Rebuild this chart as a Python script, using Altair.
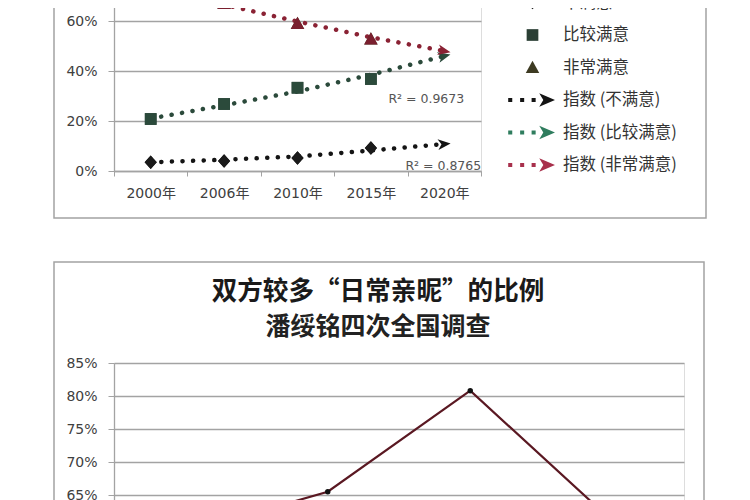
import math
import altair as alt
import pandas as pd

# ---------------- data (top chart) ----------------
years = ["2000年", "2006年", "2010年", "2015年", "2020年"]
obs_years = ["2000年", "2006年", "2010年", "2015年"]
series = ["不满意", "比较满意", "非常满意"]
trend_series = ["指数 (不满意)", "指数 (比较满意)", "指数 (非常满意)"]

unsatisfied = [0.035, 0.040, 0.052, 0.092]
fairly_satisfied = [0.208, 0.268, 0.333, 0.368]
very_satisfied = [0.74, 0.67, 0.59, 0.528]

trend_unsatisfied = [0.035, 0.045, 0.058, 0.082, 0.108]
trend_fairly = [0.21, 0.263, 0.318, 0.385, 0.46]
trend_very = [0.745, 0.665, 0.598, 0.535, 0.48]

r2_text = ["R² = 0.8765", "R² = 0.9673", "R² = 0.9895"]
r2_at = [0.022, 0.288, 0.668]

# ---------------- data (bottom chart) ----------------
surveys = ["2000年", "2006年", "2010年", "2015年"]
intimacy = [0.593, 0.655, 0.808, 0.61]

# ---------------- styles ----------------
all_series = series + trend_series
legend_colors = ["#1a1a1a", "#2b3f35", "#3d3a22", "#141414", "#2f7d5e", "#a8304c"]
point_colors = ["#1a1a1a", "#2b4a3b", "#7a1f2e", "#141414", "#2b4a3b", "#7a1f2e"]
trend_colors = ["#1a1a1a", "#2b4a3b", "#7a1f2e", "#141414", "#2b4a3b", "#8a2234"]
dots = "M-1.08,-0.09h0.18v0.18h-0.18Z M-0.55,-0.09h0.18v0.18h-0.18Z M-0.04,-0.09h0.18v0.18h-0.18Z "
arrow = "M0.3,-0.3L1,0L0.3,0.3L0.48,0Z"
shapes = [
    "M0,-0.3L0.27,0L0,0.3L-0.27,0Z",
    "M-0.26,-0.26H0.26V0.26H-0.26Z",
    "M0,-0.3L0.3,0.24L-0.3,0.24Z",
    dots + arrow,
    dots + arrow,
    dots + arrow,
]
NUM = "'DejaVu Sans', 'Noto Sans CJK SC'"
CJK = "'Noto Sans CJK SC'"
FRAME = "#a3a3a3"
GRID = "#a3a3a3"
LABEL = "#404040"

TOP_W, TOP_H = 367, 200
BOT_W, BOT_H = 570, 165

pts = pd.DataFrame({
    "year": obs_years * 3,
    "series": [s for s in series for _ in obs_years],
    "value": unsatisfied + fairly_satisfied + very_satisfied,
})
trend = pd.DataFrame({
    "year": years * 3,
    "series": [s for s in trend_series for _ in years],
    "value": trend_unsatisfied + trend_fairly + trend_very,
})
# arrow heads at the end of each trend line, rotated along the last segment
step = TOP_W / len(years)
heads = []
for name, vals in zip(trend_series, [trend_unsatisfied, trend_fairly, trend_very]):
    dy = (vals[-1] - vals[-2]) * TOP_H / 0.8
    heads.append({"year": years[-1], "series": name, "value": vals[-1],
                  "ang": -math.degrees(math.atan2(dy, step))})
heads = pd.DataFrame(heads)
r2 = pd.DataFrame({"year": years[-1], "txt": r2_text, "value": r2_at})

x_top = alt.X("year:N", sort=years,
              scale=alt.Scale(type="band", domain=years, paddingInner=0, paddingOuter=0),
              axis=alt.Axis(title=None, tickBand="extent", grid=False, labelFont=NUM,
                            labelFontSize=14, labelColor=LABEL, labelPadding=10,
                            tickSize=5, tickColor=FRAME, domainColor=FRAME, domainWidth=1.3,
                            labelAngle=0))
y_top = alt.Y("value:Q", scale=alt.Scale(domain=[0, 0.8]),
              axis=alt.Axis(title=None, values=[0, 0.2, 0.4, 0.6, 0.8], format=".0%",
                            grid=True, gridColor=GRID, gridWidth=1.3, tickSize=6,
                            tickColor=FRAME, domainColor=FRAME, domainWidth=1.3,
                            labelFont=NUM, labelFontSize=14, labelColor=LABEL,
                            labelPadding=11))

legend = alt.Legend(orient="none", legendX=396, legendY=9, title=None, padding=0,
                    symbolSize=2025, labelFont=CJK, labelFontSize=16.5, labelColor="#333333",
                    labelOffset=8, rowPadding=1.5, symbolStrokeWidth=0)

frame_top = alt.Chart(pd.DataFrame({"f": [0]})).mark_rect(
    fill=None, stroke=FRAME, strokeWidth=1.5).encode(
    x=alt.value(-60), x2=alt.value(592), y=alt.value(-10), y2=alt.value(247))

trend_lines = alt.Chart(trend).mark_line(
    strokeDash=[0.1, 10.5], strokeCap="round", strokeWidth=4.5).encode(
    x=x_top, y=y_top, detail="series:N",
    color=alt.Color("series:N", scale=alt.Scale(domain=all_series, range=trend_colors),
                    legend=None))

arrow_heads = alt.Chart(heads).mark_point(
    shape="M-1,-0.85L1,0L-1,0.85L-0.45,0Z", size=160, filled=True, opacity=1).encode(
    x=x_top, y=y_top,
    angle=alt.Angle("ang:Q", scale=None),
    color=alt.Color("series:N", scale=alt.Scale(domain=all_series, range=trend_colors),
                    legend=None))

points = alt.Chart(pts).mark_point(size=2025, filled=True, opacity=1).encode(
    x=x_top, y=y_top,
    color=alt.Color("series:N", scale=alt.Scale(domain=all_series, range=legend_colors),
                    legend=legend),
    shape=alt.Shape("series:N", scale=alt.Scale(domain=all_series, range=shapes),
                    legend=legend))

points_on_chart = alt.Chart(pts).mark_point(size=2025, filled=True, opacity=1).encode(
    x=x_top, y=y_top,
    color=alt.Color("series:N", scale=alt.Scale(domain=all_series, range=point_colors),
                    legend=None),
    shape=alt.Shape("series:N", scale=alt.Scale(domain=all_series, range=shapes),
                    legend=None))

r2_low = alt.Chart(r2).transform_filter(alt.datum.value < 0.1).mark_text(
    font=NUM, fontSize=12.5, color="#555555", dx=-1, baseline="middle").encode(
    x=x_top, y=y_top, text="txt:N")
r2_high = alt.Chart(r2).transform_filter(alt.datum.value >= 0.1).mark_text(
    font=NUM, fontSize=12.5, color="#555555", dx=-18, baseline="middle").encode(
    x=x_top, y=y_top, text="txt:N")

top = alt.layer(frame_top, trend_lines, arrow_heads, points, points_on_chart,
                r2_low, r2_high).resolve_scale(color="independent", shape="independent").properties(
    width=TOP_W, height=TOP_H)

# ---------------- bottom chart ----------------
bot = pd.DataFrame({"year": surveys, "value": intimacy})
x_bot = alt.X("year:N", sort=surveys,
              scale=alt.Scale(type="band", domain=surveys, paddingInner=0, paddingOuter=0),
              axis=alt.Axis(title=None, tickBand="extent", grid=False, labelFont=NUM,
                            labelFontSize=14, labelColor=LABEL, tickColor=FRAME,
                            domainColor=FRAME, labelAngle=0))
y_bot = alt.Y("value:Q", scale=alt.Scale(domain=[0.6, 0.85]),
              axis=alt.Axis(title=None, values=[0.6, 0.65, 0.7, 0.75, 0.8, 0.85], format=".0%",
                            grid=True, gridColor=GRID, gridWidth=1.3, tickSize=6,
                            tickColor=FRAME, domainColor=FRAME, domainWidth=1.3,
                            labelFont=NUM, labelFontSize=14, labelColor=LABEL,
                            labelPadding=11))

frame_bot = alt.Chart(pd.DataFrame({"f": [0]})).mark_rect(
    fill=None, stroke=FRAME, strokeWidth=1.5).encode(
    x=alt.value(-60), x2=alt.value(590), y=alt.value(-101), y2=alt.value(230))
bot_line = alt.Chart(bot).mark_line(color="#5a1822", strokeWidth=2.2).encode(x=x_bot, y=y_bot)
bot_pts = alt.Chart(bot).mark_point(filled=True, color="#111111", size=30, opacity=1).encode(
    x=x_bot, y=y_bot)

bottom = alt.layer(frame_bot, bot_line, bot_pts).properties(
    width=BOT_W, height=BOT_H,
    title=alt.TitleParams(text="双方较多“日常亲昵”的比例", subtitle="潘绥铭四次全国调查",
                          font=CJK, fontSize=25.6, fontWeight="bold", color="#1a1a1a",
                          subtitleFont=CJK, subtitleFontSize=25, subtitleFontWeight="bold",
                          subtitleColor="#222222", subtitlePadding=10, anchor="middle",
                          dx=-21, offset=-79))

chart = alt.vconcat(top, bottom, spacing=40).properties(
    padding={"top": -49, "left": 44, "right": 0, "bottom": 0}
).configure_view(stroke=None).configure(background="white")

chart.save("out.html", embed_options={"renderer": "svg", "actions": False})
